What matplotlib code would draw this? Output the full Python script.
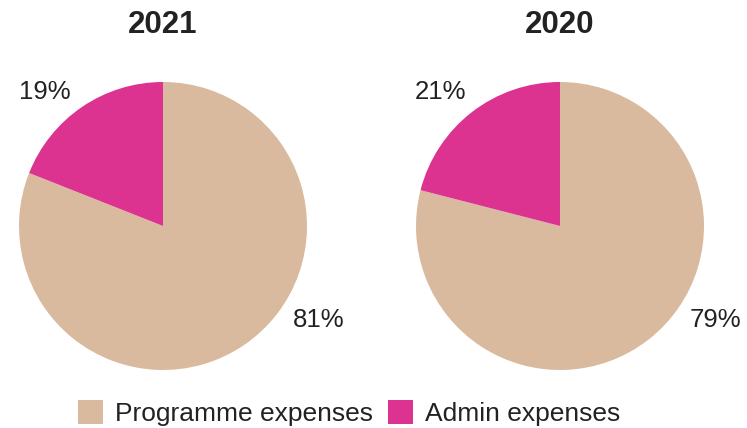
import matplotlib
matplotlib.use("Agg")
import matplotlib.pyplot as plt
from matplotlib.patches import Patch

years = ["2021", "2020"]
categories = ["Programme expenses", "Admin expenses"]
programme = [81, 79]
admin = [19, 21]
colors = ["#D9BA9F", "#DD3390"]

plt.rcParams['font.family'] = ['Liberation Sans', 'DejaVu Sans']

W, H = 747, 428
fig = plt.figure(figsize=(W / 100, H / 100), dpi=100)

centers_x = [163, 560]
cy = 226
r = 144
label_offsets = [((-0.82, 0.93), (1.08, -0.65)), ((-0.83, 0.93), (1.08, -0.65))]

for i, yr in enumerate(years):
    cx = centers_x[i]
    ax = fig.add_axes([(cx - r) / W, (H - cy - r) / H, 2 * r / W, 2 * r / H])
    vals = [programme[i], admin[i]]
    ax.pie(vals, colors=colors, startangle=90, counterclock=False, radius=1,
           wedgeprops=dict(linewidth=0))
    ax.set_xlim(-1, 1)
    ax.set_ylim(-1, 1)
    ax.set_aspect('equal')
    ax.axis('off')
    (ax_, ay_), (px_, py_) = label_offsets[i]
    ax.text(ax_, ay_, f"{admin[i]}%", ha='center', va='center', fontsize=18.5, color='#222222', clip_on=False)
    ax.text(px_, py_, f"{programme[i]}%", ha='center', va='center', fontsize=18.5, color='#222222', clip_on=False)
    fig.text(cx / W, 1 - 25 / H, yr, ha='center', va='center', fontsize=22.5, fontweight='bold', color='#222222')

handles = [Patch(facecolor=c, edgecolor='none') for c in colors]
fig.legend(handles, categories, loc='center', bbox_to_anchor=(349 / W, 1 - 413 / H), ncol=2,
           frameon=False, fontsize=19, handlelength=0.95, handleheight=1.05, handletextpad=0.45,
           columnspacing=0.55, labelcolor='#222222', borderaxespad=0, borderpad=0)

fig.savefig("out.png", dpi=100)
